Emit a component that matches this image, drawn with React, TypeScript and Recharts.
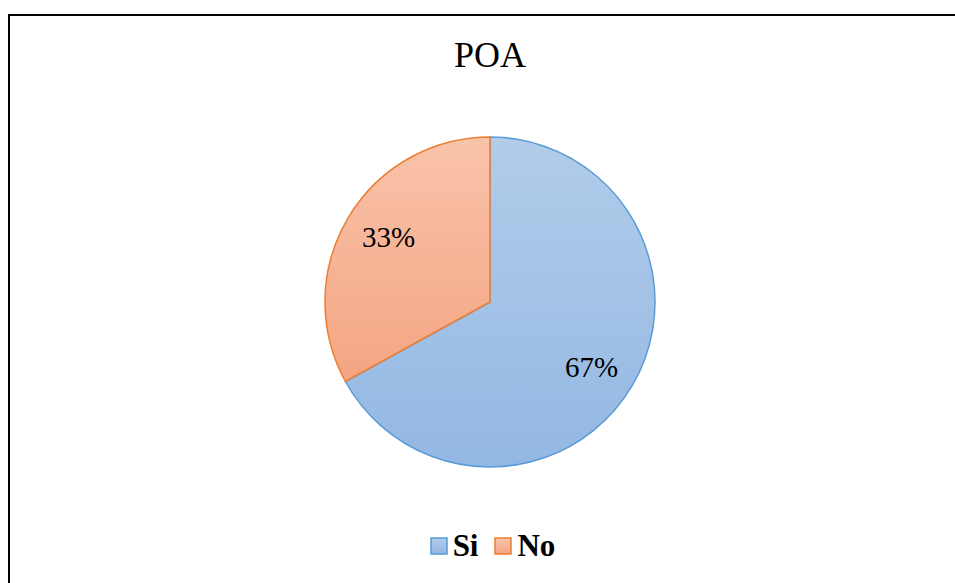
import { PieChart, Pie, Cell, Legend } from "recharts"

const categories = ["Si", "No"]
const values = [67, 33]
const title = "POA"

const strokes = ["#5B9BD5", "#ED7D31"]
const gradients = [
  ["#B2CCEA", "#93B8E3"],
  ["#F9C3AB", "#F4A582"],
]

const data = categories.map((name, i) => ({ name, value: values[i] }))

const serif = "Liberation Serif, DejaVu Serif, serif"

const RADIAN = Math.PI / 180

function renderLabel(props: any) {
  const { cx, cy, midAngle, outerRadius, percent } = props
  const r = outerRadius * 0.73
  // excel puts the labels a touch clockwise of the slice middle
  const a = (midAngle - 2) * RADIAN
  const x = cx + r * Math.cos(-a)
  const y = cy + r * Math.sin(-a)
  return (
    <text
      x={x}
      y={y}
      textAnchor="middle"
      dominantBaseline="central"
      style={{ fontFamily: serif, fontSize: 29 }}
      fill="#000"
    >
      {`${Math.round(percent * 100)}%`}
    </text>
  )
}

function renderLegend(props: any) {
  // keep the legend in data order (recharts 3 sorts by name otherwise)
  const items = [...(props.payload || [])].sort(
    (a: any, b: any) => categories.indexOf(a.value) - categories.indexOf(b.value)
  )
  return (
    <div style={{ display: "flex", justifyContent: "center", alignItems: "center", gap: 16 }}>
      {items.map((entry: any) => {
        const i = categories.indexOf(entry.value)
        return (
          <div key={entry.value} style={{ display: "flex", alignItems: "center", gap: 5 }}>
            <svg width={18} height={18}>
              <rect x={1} y={1} width={16} height={16} fill={`url(#grad${i})`} stroke={strokes[i]} strokeWidth={1.5} />
            </svg>
            <span style={{ fontFamily: serif, fontWeight: "bold", fontSize: 31, color: "#000" }}>
              {entry.value}
            </span>
          </div>
        )
      })}
    </div>
  )
}

export default function App() {
  return (
    <div
      style={{
        position: "fixed",
        left: 8,
        top: 14,
        width: 947,
        height: 569,
        borderTop: "2px solid #000",
        borderLeft: "2px solid #000",
        background: "#fff",
      }}
    >
      <div
        style={{
          position: "absolute",
          left: 0,
          top: 18,
          width: 960,
          textAlign: "center",
          fontFamily: serif,
          fontSize: 36,
          color: "#000",
        }}
      >
        {title}
      </div>
      <PieChart width={945} height={567}>
        <defs>
          {gradients.map((g, i) => (
            <linearGradient key={i} id={`grad${i}`} x1="0" y1="0" x2="0" y2="1">
              <stop offset="0%" stopColor={g[0]} />
              <stop offset="100%" stopColor={g[1]} />
            </linearGradient>
          ))}
        </defs>
        <Pie
          data={data}
          dataKey="value"
          nameKey="name"
          cx={475}
          cy={281}
          outerRadius={165}
          startAngle={90}
          endAngle={-270}
          label={renderLabel}
          labelLine={false}
          isAnimationActive={false}
        >
          {data.map((d, i) => (
            <Cell key={d.name} fill={`url(#grad${i})`} stroke={strokes[i]} strokeWidth={1.5} />
          ))}
        </Pie>
        <Legend
          content={renderLegend}
          wrapperStyle={{ position: "absolute", left: 0, top: 512, width: 965 }}
        />
      </PieChart>
    </div>
  )
}
